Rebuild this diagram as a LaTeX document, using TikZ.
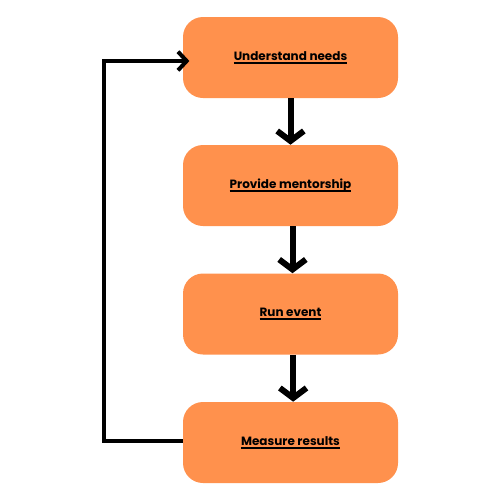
\documentclass[tikz,border=0pt]{standalone}
\usepackage{fontspec}
\setmainfont{Poppins}
\usetikzlibrary{arrows.meta}
\definecolor{boxorange}{HTML}{FF914D}
\newcommand{\myul}[1]{{\setbox0\hbox{#1}\rlap{\rule[-2.4pt]{\wd0}{1.3pt}}\box0}}
\tikzset{
  stepbox/.style={rectangle, rounded corners=15pt, fill=boxorange, draw=none,
    minimum width=161.25pt, minimum height=60.75pt, inner sep=0pt,
    font=\bfseries\fontsize{9pt}{10.5pt}\selectfont},
  downarrow/.style={line width=4.5pt, -{Straight Barb[length=7.5pt,width=20pt]}},
  looparrow/.style={line width=3pt, -{Straight Barb[length=6.5pt,width=14pt]}}
}
\begin{document}
\begin{tikzpicture}[x=0.75pt,y=-0.75pt]
\useasboundingbox[fill=white] (0,0) rectangle (500,500);
\node[stepbox] (u) at (290.5,57.5) {\myul{Understand needs}};
\node[stepbox] (p) at (290.5,185.5) {\myul{Provide mentorship}};
\node[stepbox] (r) at (290.5,314) {\myul{Run event}};
\node[stepbox] (m) at (290.5,442.5) {\myul{Measure results}};
\draw[downarrow] (u.south) -- (p.north);
\draw[downarrow] ([xshift=1.5pt]p.south) -- ([xshift=1.5pt]r.north);
\draw[downarrow] ([xshift=2pt]r.south) -- ([xshift=2pt]m.north);
\coordinate (c1) at (104,441);
\coordinate (c2) at (104,61);
\draw[looparrow, shorten >=-5pt] (m.west |- c1) -- (c1) -- (c2) -- (u.west |- c2);
\end{tikzpicture}
\end{document}
